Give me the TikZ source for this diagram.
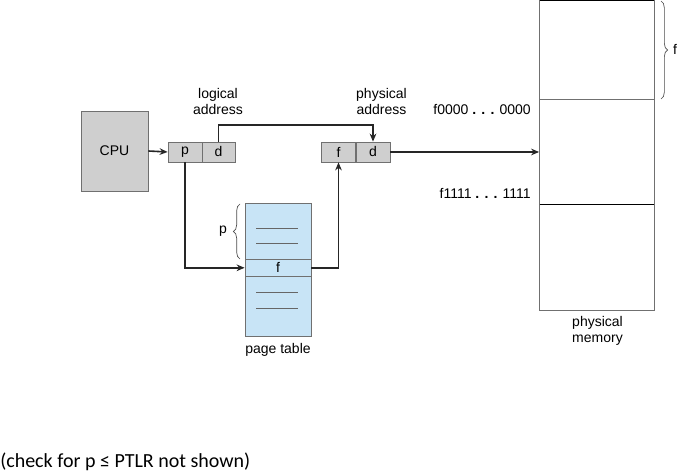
\documentclass[tikz,border=0pt]{standalone}
\usepackage{fontspec}
\setmainfont{Liberation Sans}
\newfontfamily\calib{Carlito}
\usetikzlibrary{arrows.meta,decorations.pathreplacing}
\definecolor{boxgray}{HTML}{CFCFCF}
\definecolor{ptblue}{HTML}{C8E4F6}
\definecolor{edge}{HTML}{707070}
\tikzset{
  lbl/.style={font=\fontsize{10.5pt}{12pt}\selectfont, inner sep=0pt, align=center},
  cell/.style={draw=edge, line width=0.6pt, fill=boxgray, minimum height=20*0.75pt, inner sep=0pt, font=\fontsize{10.5pt}{12pt}\selectfont},
  conn/.style={line width=1.2pt, draw=black!85},
  arr/.style={conn, -{Stealth[length=6pt,width=5pt]}},
  ptline/.style={draw=black!60, line width=0.5pt},
  brc/.style={draw=black!70, line width=0.5pt, decorate, decoration={brace, amplitude=5pt}}
}
\begin{document}
\begin{tikzpicture}[x=0.75pt,y=-0.75pt]
\useasboundingbox (0,0) rectangle (678,473);
% CPU
\node[cell, minimum width=67*0.75pt, minimum height=80*0.75pt] (cpu) at (114.5,151) {CPU};
% logical address
\node[cell, minimum width=34*0.75pt] (lp) at (185,152) {p};
\node[cell, minimum width=33*0.75pt] (ld) at (218.5,152) {d};
\node[lbl] (llab) at (218,102) {logical\\address};
% physical address
\node[cell, minimum width=34*0.75pt] (pf) at (338.5,152) {f};
\node[cell, minimum width=34*0.75pt] (pd) at (373,152) {d};
\node[lbl] (plab) at (381.5,102) {physical\\address};
% page table
\node[draw=edge, line width=0.6pt, fill=ptblue, minimum width=66*0.75pt, minimum height=133*0.75pt, inner sep=0pt] (pt) at (278,269.5) {};
\node[draw=edge, line width=0.6pt, fill=ptblue, minimum width=66*0.75pt, minimum height=17*0.75pt, inner sep=0pt, font=\fontsize{10.5pt}{12pt}\selectfont] (frow) at (278,267.8) {f};
\coordinate (l1a) at (256,228.3); \coordinate (l1b) at (298,228.3);
\coordinate (l2a) at (256,243.3); \coordinate (l2b) at (298,243.3);
\coordinate (l3a) at (256,292.3); \coordinate (l3b) at (298,292.3);
\coordinate (l4a) at (256,308.7); \coordinate (l4b) at (298,308.7);
\draw[ptline] (l1a) -- (l1b);
\draw[ptline] (l2a) -- (l2b);
\draw[ptline] (l3a) -- (l3b);
\draw[ptline] (l4a) -- (l4b);
\node[lbl] (ptlab) at (278,350) {page table};
% brace p
\coordinate (bpa) at (240,259); \coordinate (bpb) at (240,204);
\draw[brc] (bpa) -- (bpb);
\node[lbl] (bplab) at (223,231) {p};
% physical memory
\node[draw=edge, line width=0.6pt, minimum width=114.5*0.75pt, minimum height=309.5*0.75pt, inner sep=0pt] (mem) at (596.75,155.5) {};
\coordinate (m0a) at (539.5,0.6); \coordinate (m0b) at (654,0.6);
\coordinate (m1a) at (539.5,99); \coordinate (m1b) at (654,99);
\coordinate (m2a) at (539.5,204); \coordinate (m2b) at (654,204);
\draw[black, line width=0.9pt] (m0a) -- (m0b);
\draw[edge, line width=0.6pt] (m1a) -- (m1b);
\draw[black, line width=0.6pt] (m2a) -- (m2b);
\node[lbl, anchor=east] (a0) at (531,110) {f0000 \textbf{. . .} 0000};
\node[lbl, anchor=east] (a1) at (531,193) {f1111 \textbf{. . .} 1111};
\node[lbl] (mlab) at (597.5,331) {physical\\memory};
% brace f
\coordinate (bfa) at (661,1); \coordinate (bfb) at (661,99);
\draw[brc] (bfa) -- (bfb);
\node[lbl] (bflab) at (675,49) {f};
% connectors
\draw[arr] (cpu.east) -- (lp.west);
\coordinate (topy) at (0,125);
\draw[arr] (ld.north) |- (topy -| pd.north) -- (pd.north);
\draw[arr] (lp.south) |- (frow.west);
\draw[arr] (frow.east) -| (pf.south);
\draw[arr] (pd.east) -- (pd.east -| mem.west);
% note
\node[anchor=west, inner sep=0pt, font=\calib\fontsize{15pt}{18pt}\selectfont] (note) at (0,462) {(check for p ≤ PTLR not shown)};
\end{tikzpicture}
\end{document}
